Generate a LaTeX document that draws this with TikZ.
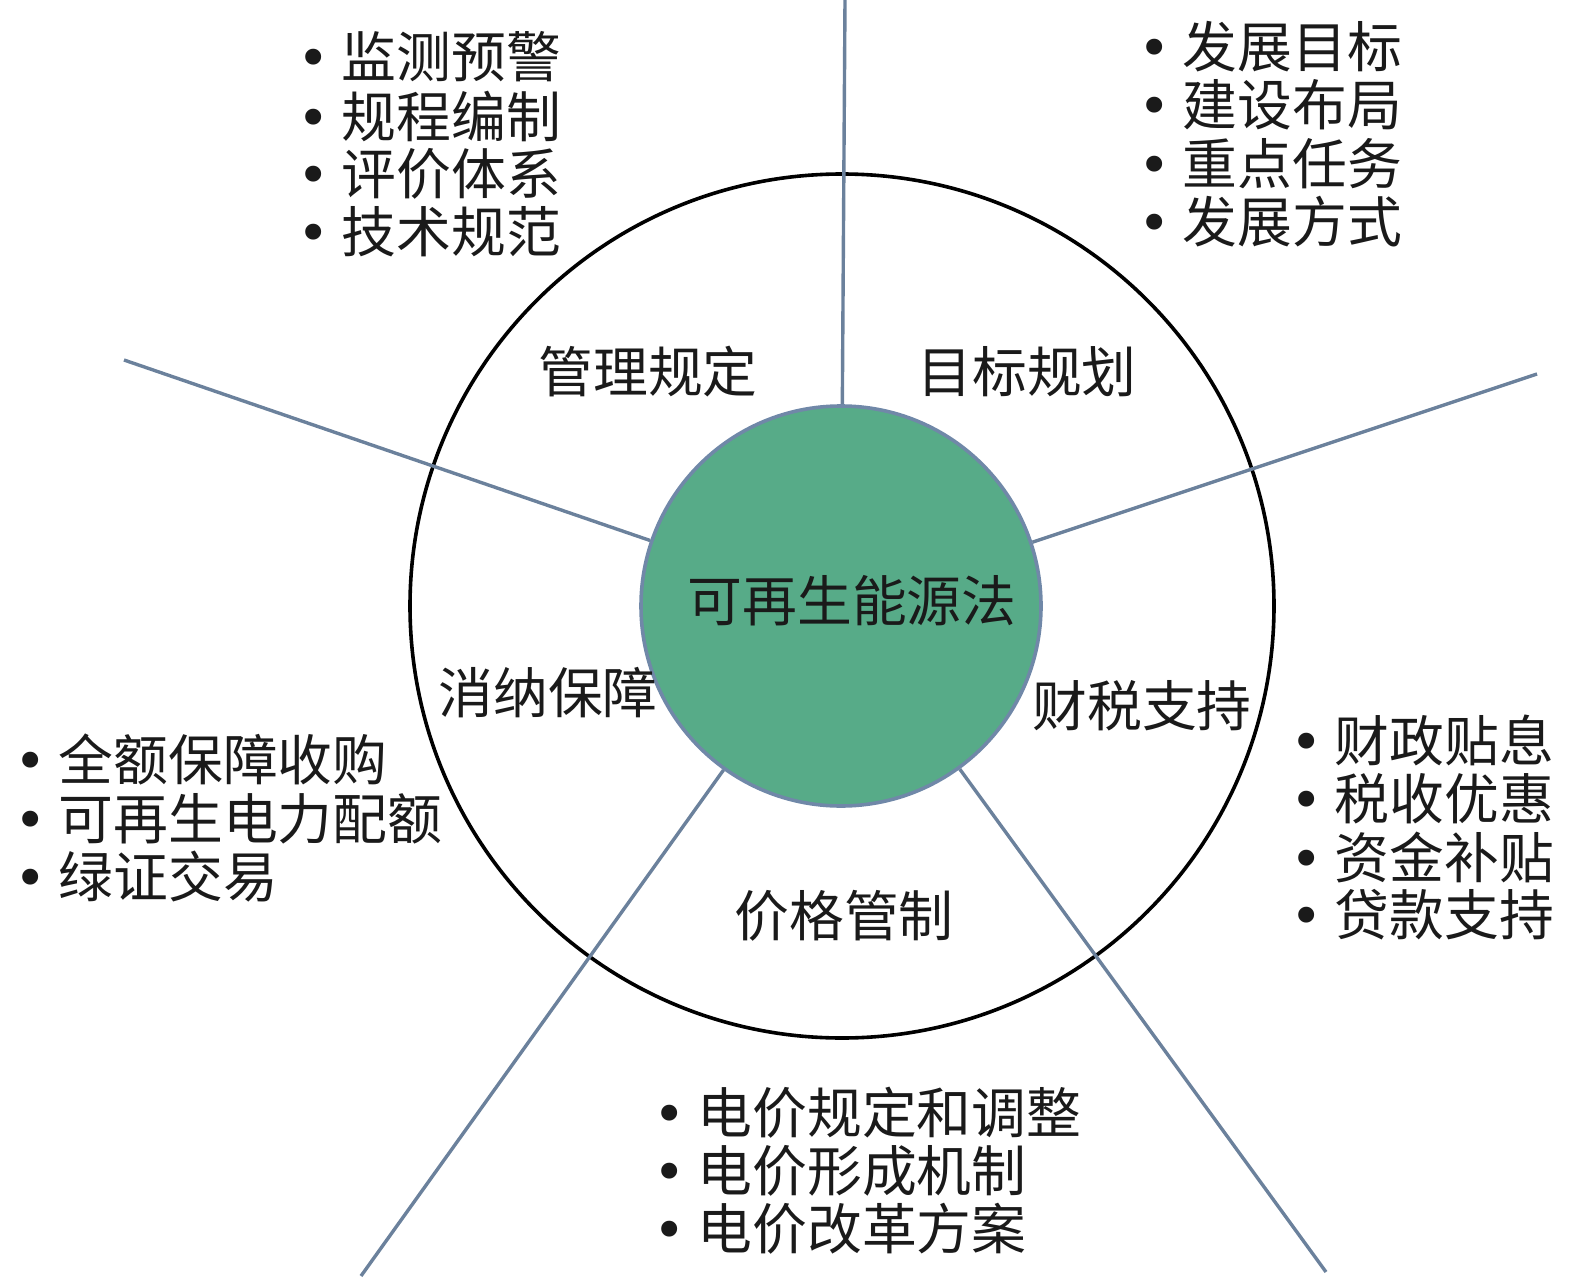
\documentclass[tikz,border=0pt]{standalone}
\usepackage{fontspec}
\setmainfont{Noto Sans CJK SC}
\newfontfamily\bulfont{DejaVu Sans}
\definecolor{spoke}{HTML}{6B819C}
\definecolor{hubfill}{HTML}{57AB88}
\definecolor{hubline}{HTML}{7088A8}
\definecolor{ink}{HTML}{1A1A1A}
\begin{document}
\begin{tikzpicture}[x=0.5pt,y=-0.5pt,
  txt/.style={inner sep=0pt, text=ink, font=\fontsize{27.4pt}{29pt}\selectfont},
  item/.style={txt, anchor=west},
  spokeline/.style={draw=spoke, line width=1.7pt}]
\useasboundingbox (0,0) rectangle (1575,1284);
% outer ring
\node[circle, draw=black, line width=1.8pt, minimum size=432pt, inner sep=0pt] (ring) at (842,606) {};
% hub
\node[circle, fill=hubfill, draw=hubline, line width=1.8pt, minimum size=200pt, inner sep=0pt] (hub) at (841,606) {};
% spoke ends
\coordinate (eN) at (845,0);
\coordinate (eNE) at (1537,374);
\coordinate (eNW) at (124,360);
\coordinate (eSE) at (1326,1272);
\coordinate (eSW) at (361,1276);
\draw[spokeline] (hub) -- (eN);
\draw[spokeline] (hub) -- (eNE);
\draw[spokeline] (hub) -- (eNW);
\draw[spokeline] (hub) -- (eSE);
\draw[spokeline] (hub) -- (eSW);
% center title
\node[txt] (title) at (852,601) {可再生能源法};
% sector labels
\node[txt] (s1) at (648,372) {管理规定};
\node[txt] (s2) at (1027,372) {目标规划};
\node[txt] (s3) at (548,693) {消纳保障};
\node[txt] (s4) at (1142,706) {财税支持};
\node[txt] (s5) at (844,916) {价格管制};
% lists
\newcommand{\bl}{{\bulfont •}\hspace{6pt}}
\node[item] (a1) at (297,57) {\bl 监测预警};
\node[item] (a2) at (297,116) {\bl 规程编制};
\node[item] (a3) at (297,174) {\bl 评价体系};
\node[item] (a4) at (297,232) {\bl 技术规范};
\node[item] (b1) at (1138,47) {\bl 发展目标};
\node[item] (b2) at (1138,105) {\bl 建设布局};
\node[item] (b3) at (1138,164) {\bl 重点任务};
\node[item] (b4) at (1138,222) {\bl 发展方式};
\node[item] (c1) at (14,759) {\bl 全额保障收购};
\node[item] (c2) at (14,819) {\bl 可再生电力配额};
\node[item] (c3) at (14,877) {\bl 绿证交易};
\node[item] (d1) at (1290,740) {\bl 财政贴息};
\node[item] (d2) at (1290,799) {\bl 税收优惠};
\node[item] (d3) at (1290,857) {\bl 资金补贴};
\node[item] (d4) at (1290,915) {\bl 贷款支持};
\node[item] (f1) at (653,1113) {\bl 电价规定和调整};
\node[item] (f2) at (653,1171) {\bl 电价形成机制};
\node[item] (f3) at (653,1229) {\bl 电价改革方案};
\end{tikzpicture}
\end{document}
